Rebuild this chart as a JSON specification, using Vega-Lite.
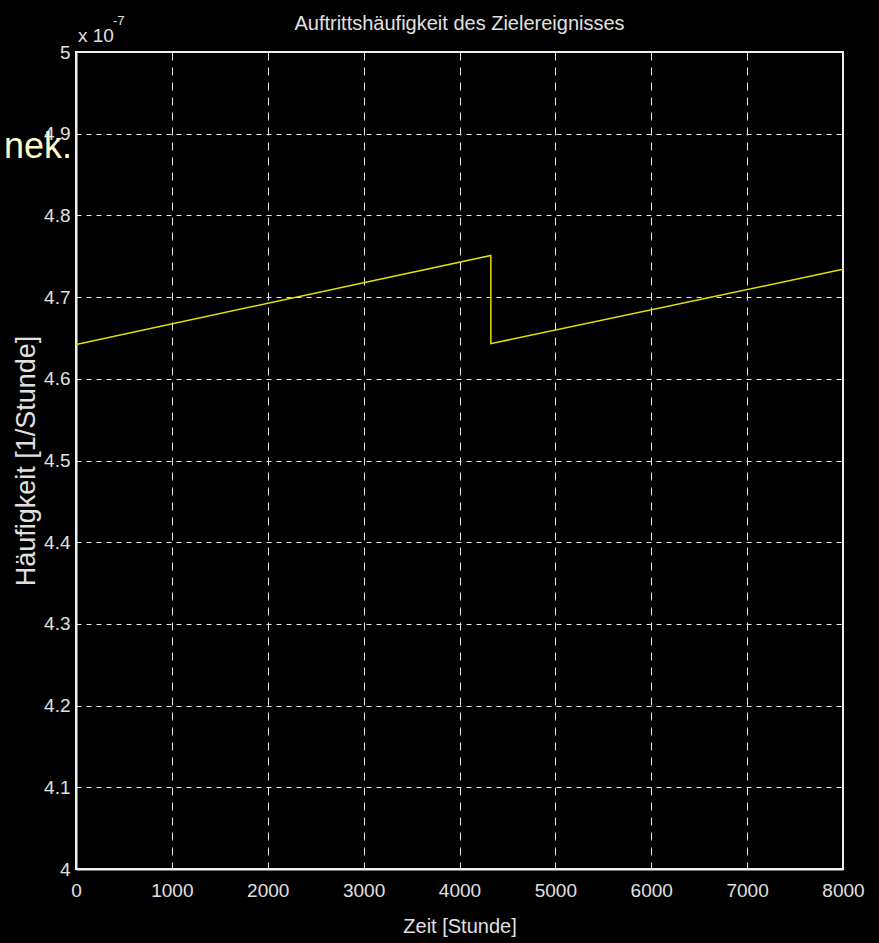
{
  "$schema": "https://vega.github.io/schema/vega-lite/v6.json",
  "width": 767,
  "height": 817,
  "autosize": {"type": "none"},
  "padding": {"left": 76, "top": 52, "right": 36, "bottom": 74},
  "background": "#000000",
  "config": {
    "view": {"stroke": "#f0f0f0", "strokeWidth": 2},
    "axis": {
      "labelFont": "Liberation Sans",
      "labelFontSize": 19,
      "labelColor": "#e0e0e0",
      "titleFont": "Liberation Sans",
      "titleFontSize": 20,
      "titleFontWeight": "normal",
      "titleColor": "#e0e0e0",
      "domainColor": "#f0f0f0",
      "domainWidth": 2,
      "gridColor": "#e8e8e8",
      "gridOpacity": 1,
      "gridWidth": 1,
      "ticks": false
    }
  },
  "datasets": {
    "series": [
      {"punkt": 1, "zeit": 0, "haeufigkeit": 4.642},
      {"punkt": 2, "zeit": 4327, "haeufigkeit": 4.751},
      {"punkt": 3, "zeit": 4327, "haeufigkeit": 4.643},
      {"punkt": 4, "zeit": 8000, "haeufigkeit": 4.734}
    ],
    "labels": [
      {"zeit": 0, "haeufigkeit": 5, "text": "x 10", "hoch": "-7"}
    ],
    "titel": [
      {"zeit": 4000, "haeufigkeit": 5, "text": "Auftrittshäufigkeit des Zielereignisses"}
    ],
    "rest": [
      {"zeit": 0, "haeufigkeit": 4.9, "text": "nek."}
    ]
  },
  "layer": [
    {
      "data": {"name": "series"},
      "mark": {"type": "line", "color": "#e2e200", "strokeWidth": 1.5, "clip": true},
      "encoding": {
        "x": {
          "field": "zeit",
          "type": "quantitative",
          "scale": {"domain": [0, 8000], "nice": false},
          "axis": {
            "values": [0, 1000, 2000, 3000, 4000, 5000, 6000, 7000, 8000],
            "format": "d",
            "labelPadding": 12,
            "labelFlush": false,
            "grid": true,
            "gridDash": [8, 7],
            "title": "Zeit [Stunde]",
            "titlePadding": 16
          }
        },
        "y": {
          "field": "haeufigkeit",
          "type": "quantitative",
          "scale": {"domain": [4, 5], "nice": false, "zero": false},
          "axis": {
            "values": [4, 4.1, 4.2, 4.3, 4.4, 4.5, 4.6, 4.7, 4.8, 4.9, 5],
            "format": ".1~f",
            "labelPadding": 6,
            "labelFlush": false,
            "grid": true,
            "gridDash": [5, 5],
            "title": "Häufigkeit [1/Stunde]",
            "titleFontSize": 27,
            "titlePadding": 3
          }
        },
        "order": {"field": "punkt", "type": "quantitative"}
      }
    },
    {
      "data": {"name": "titel"},
      "mark": {
        "type": "text",
        "align": "center",
        "baseline": "alphabetic",
        "dy": -22,
        "font": "Liberation Sans",
        "fontSize": 20,
        "color": "#e0e0e0"
      },
      "encoding": {
        "x": {"field": "zeit", "type": "quantitative"},
        "y": {"field": "haeufigkeit", "type": "quantitative"},
        "text": {"field": "text"}
      }
    },
    {
      "data": {"name": "labels"},
      "mark": {
        "type": "text",
        "align": "left",
        "baseline": "alphabetic",
        "dx": 2,
        "dy": -10,
        "font": "Liberation Sans",
        "fontSize": 19,
        "color": "#e0e0e0"
      },
      "encoding": {
        "x": {"field": "zeit", "type": "quantitative"},
        "y": {"field": "haeufigkeit", "type": "quantitative"},
        "text": {"field": "text"}
      }
    },
    {
      "data": {"name": "labels"},
      "mark": {
        "type": "text",
        "align": "left",
        "baseline": "alphabetic",
        "dx": 37,
        "dy": -27,
        "font": "Liberation Sans",
        "fontSize": 13,
        "color": "#e0e0e0"
      },
      "encoding": {
        "x": {"field": "zeit", "type": "quantitative"},
        "y": {"field": "haeufigkeit", "type": "quantitative"},
        "text": {"field": "hoch"}
      }
    },
    {
      "data": {"name": "rest"},
      "mark": {
        "type": "text",
        "align": "right",
        "baseline": "alphabetic",
        "dx": -4,
        "dy": 24,
        "font": "Liberation Sans",
        "fontSize": 36,
        "color": "#ffffc8"
      },
      "encoding": {
        "x": {"field": "zeit", "type": "quantitative"},
        "y": {"field": "haeufigkeit", "type": "quantitative"},
        "text": {"field": "text"}
      }
    }
  ]
}
